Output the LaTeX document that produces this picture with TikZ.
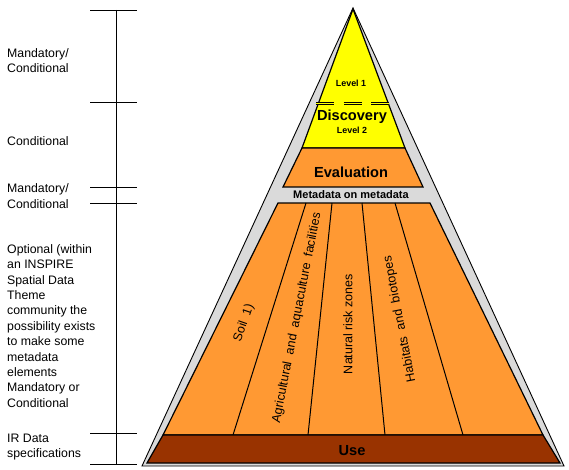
\documentclass[tikz,border=0pt]{standalone}
\usepackage{fontspec}
\setmainfont{Liberation Sans}
\definecolor{pgray}{RGB}{218,218,218}
\definecolor{pyel}{RGB}{255,255,0}
\definecolor{porange}{RGB}{255,153,51}
\definecolor{pbrown}{RGB}{153,51,0}
\begin{document}
\begin{tikzpicture}[x=1pt,y=-1pt,
  lbl/.style={inner sep=0pt, anchor=west, align=left, font=\fontsize{12.3}{15.4}\selectfont},
  big/.style={inner sep=0pt, font=\fontsize{14.6}{16}\selectfont\bfseries},
  small/.style={inner sep=0pt, font=\fontsize{8.9}{10}\selectfont\bfseries},
  theme/.style={inner sep=0pt, font=\fontsize{12.5}{14}\selectfont},
  pyrpart/.style={draw=black, line width=1.2pt},
  brack/.style={draw=black, line width=0.9pt}]
\useasboundingbox (0,0) rectangle (569,470);
% outer gray triangle
\filldraw[fill=pgray, draw=black, line width=0.9pt] (353,8) -- (564,466) -- (142,466) -- cycle;
% yellow discovery triangle
\filldraw[pyrpart, fill=pyel] (353,9) -- (405,148) -- (302,148) -- cycle;
\draw[line width=1.5pt, double=pyel, double distance=0.9pt, dash pattern=on 18pt off 9.5pt] (316,103.5) -- (389,103.5);
% evaluation
\filldraw[pyrpart, fill=porange] (302,148) -- (405,148) -- (423,187) -- (283,187) -- cycle;
% themes
\filldraw[pyrpart, fill=porange] (278,203) -- (430,203) -- (543,435) -- (163,435) -- cycle;
\draw[line width=1pt] (306,203) -- (233,435);
\draw[line width=1pt] (332,203) -- (308,435);
\draw[line width=1pt] (362,203) -- (385,435);
\draw[line width=1pt] (395,203) -- (463,435);
% use
\filldraw[pyrpart, fill=pbrown] (163,435) -- (543,435) -- (560,463) -- (147,463) -- cycle;
% pyramid texts
\node[small] (lv1) at (351,83) {Level 1};
\node[big] (disc) at (352,117) {Discovery};
\node[small] (lv2) at (352,130) {Level 2};
\node[big] (eval) at (351,172) {Evaluation};
\node[inner sep=0pt, font=\fontsize{11}{12}\selectfont\bfseries] (meta) at (351,195) {Metadata on metadata};
\node[big] (use) at (352,451) {Use};
\node[theme, rotate=71] (soil) at (244,323) {Soil\ \ 1)};
\node[theme, rotate=79] (agri) at (297,318) {Agricultural\ \ and\ \ aquaculture\ \ facilities};
\node[theme, rotate=90] (nat) at (348,324) {Natural risk zones};
\node[theme, rotate=101] (hab) at (400,319) {Habitats\ \ and\ \ biotopes};
% bracket
\draw[brack] (116,10) -- (116,465);
\foreach \yy in {10,102,187,203,433,464} \draw[brack] (90,\yy) -- (137,\yy);
% left labels
\node[lbl] (t1) at (7,60.5) {Mandatory/\\Conditional};
\node[lbl] (t2) at (7,141) {Conditional};
\node[lbl] (t3) at (7,196) {Mandatory/\\Conditional};
\node[lbl] (t4) at (7,326) {Optional (within\\an INSPIRE\\Spatial Data\\Theme\\community the\\possibility exists\\to make some\\metadata\\elements\\Mandatory or\\Conditional};
\node[lbl] (t5) at (7,447) {IR Data\\specifications};
\end{tikzpicture}
\end{document}
